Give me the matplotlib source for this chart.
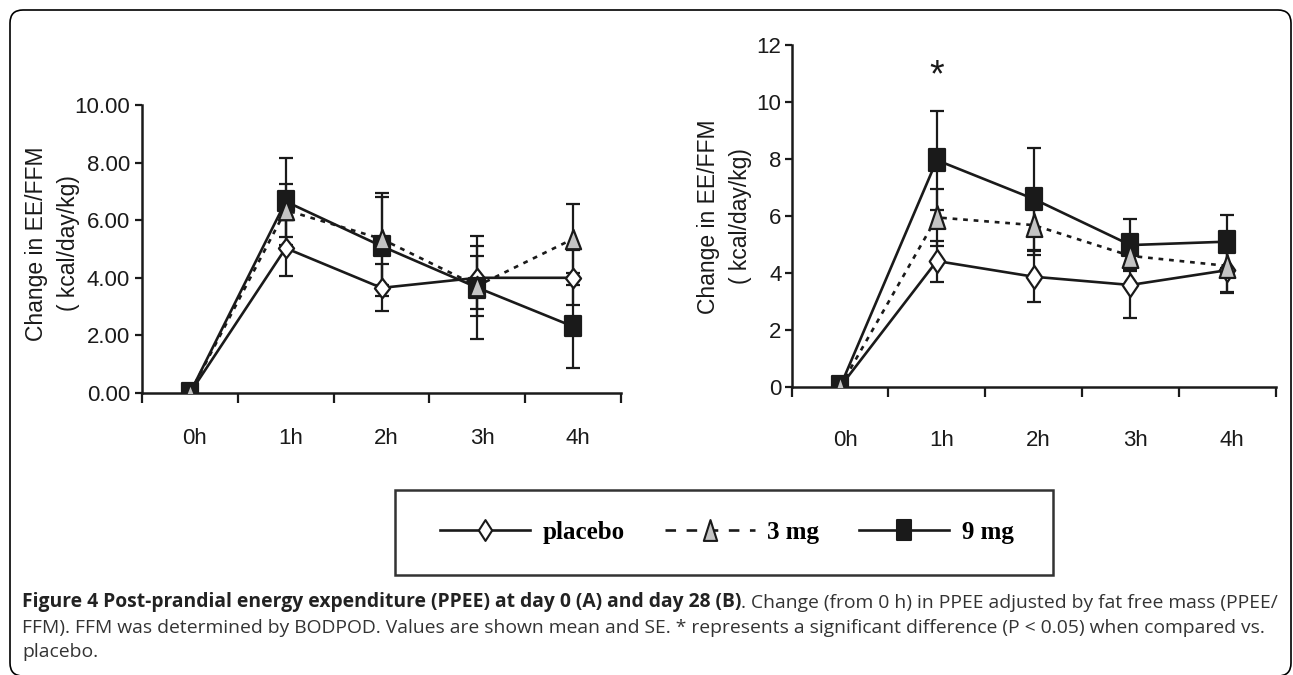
import numpy as np
import matplotlib
matplotlib.use("Agg")
import matplotlib.pyplot as plt
from matplotlib.path import Path
from matplotlib.lines import Line2D
from matplotlib.patches import FancyBboxPatch, Rectangle
import matplotlib.transforms as mtransforms
from matplotlib import font_manager as fm

# ---------------- data ----------------
hours = ["0h", "1h", "2h", "3h", "4h"]
series_names = ["placebo", "3 mg", "9 mg"]

# Panel A (day 0)
placebo_A = [0.0, 5.03, 3.65, 4.00, 4.00]
mg3_A = [0.0, 6.35, 5.35, 3.72, 5.35]
mg9_A = [0.0, 6.65, 5.10, 3.66, 2.31]
placebo_A_se = [0.0, 0.97, 0.82, 1.10, 0.95]
mg3_A_se = [0.0, 0.92, 1.60, 1.03, 1.20]
mg9_A_se = [0.0, 1.50, 1.72, 1.80, 1.45]

# Panel B (day 28)
placebo_B = [0.0, 4.42, 3.87, 3.58, 4.10]
mg3_B = [0.0, 5.95, 5.68, 4.60, 4.25]
mg9_B = [0.0, 7.96, 6.60, 4.98, 5.10]
placebo_B_se = [0.0, 0.72, 0.90, 1.17, 0.80]
mg3_B_se = [0.0, 1.00, 1.05, 0.45, 0.90]
mg9_B_se = [0.0, 1.74, 1.80, 0.90, 0.93]

yticks_A = [0, 2, 4, 6, 8, 10]
ytick_labels_A = ["0.00", "2.00", "4.00", "6.00", "8.00", "10.00"]
yticks_B = [0, 2, 4, 6, 8, 10, 12]
ytick_labels_B = ["0", "2", "4", "6", "8", "10", "12"]

ylabel_1 = "Change in EE/FFM"
ylabel_2 = "( kcal/day/kg)"
star_text = "*"
star_pos_B = (1, 10.55)

caption_bold = "Figure 4 Post-prandial energy expenditure (PPEE) at day 0 (A) and day 28 (B)"
caption_rest1 = ". Change (from 0 h) in PPEE adjusted by fat free mass (PPEE/"
caption_line2 = ("FFM). FFM was determined by BODPOD. Values are shown mean and SE. "
                 "* represents a significant difference (P < 0.05) when compared vs.")
caption_line3 = "placebo."

# ---------------- styling ----------------
W, H, DPI = 1293, 675, 100
INK = "#1a1a1a"
SANS = "Liberation Sans"
names = {f.name for f in fm.fontManager.ttflist}
CAP_FONT = "Liberation Sans Narrow" if "Liberation Sans Narrow" in names else "Open Sans"

def make_marker(kind, ratio):
    if kind == "diamond":
        v = [(0, 1), (ratio, 0), (0, -1), (-ratio, 0), (0, 1)]
    elif kind == "tri":
        v = [(0, 1), (ratio, -1), (-ratio, -1), (0, 1)]
    else:
        v = [(-ratio, -1), (ratio, -1), (ratio, 1), (-ratio, 1), (-ratio, -1)]
    codes = [Path.MOVETO] + [Path.LINETO] * (len(v) - 2) + [Path.CLOSEPOLY]
    return Path(v, codes)

fig = plt.figure(figsize=(W / DPI, H / DPI), dpi=DPI)

def px_ax(l, r, b_from_top, t_from_top):
    return [l / W, (H - b_from_top) / H, (r - l) / W, (b_from_top - t_from_top) / H]

axA = fig.add_axes(px_ax(142.1, 620.9, 393, 105))
axB = fig.add_axes(px_ax(791.6, 1275.6, 387, 45))

def draw_panel(ax, data, ses, ylim, yticks, ylabels, msize, ratio, xlab_pad, ylab_pad):
    x = np.arange(len(hours))
    styles = [
        dict(ls="-", mk="diamond", fc="white"),
        dict(ls=(0, (1.8, 2.2)), mk="tri", fc="#c4c4c4"),
        dict(ls="-", mk="square", fc=INK),
    ]
    order = [0, 2, 1]  # placebo, 9 mg, 3 mg drawing order
    for i in order:
        y = np.asarray(data[i], float)
        se = np.asarray(ses[i], float)
        m = se > 0
        ax.errorbar(x[m], y[m], yerr=se[m], fmt="none", ecolor=INK, elinewidth=1.6,
                    capsize=4.8, capthick=1.6, zorder=2)
    for k, i in enumerate(order):
        y = np.asarray(data[i], float)
        st = styles[i]
        ax.plot(x, y, color=INK, lw=1.9, ls=st["ls"], zorder=3 + k * 0.1,
                dash_capstyle="butt")
    for k, i in enumerate(order):
        y = np.asarray(data[i], float)
        st = styles[i]
        ax.plot(x, y, ls="none", marker=make_marker(st["mk"], ratio), ms=msize,
                mfc=st["fc"], mec=INK, mew=1.6, zorder=5 + k)
    ax.set_xlim(-0.5, len(hours) - 0.5)
    ax.set_ylim(*ylim)
    ax.set_xticks(np.arange(-0.5, len(hours), 1.0))
    ax.set_xticklabels([])
    ax.set_xticks(x, minor=True)
    ax.set_xticklabels(hours, minor=True, fontsize=16, family=SANS, color=INK)
    ax.tick_params(axis="x", which="major", direction="out", length=7, width=1.6, color=INK)
    ax.tick_params(axis="x", which="minor", length=0, pad=xlab_pad)
    ax.set_yticks(yticks)
    ax.set_yticklabels(ylabels, fontsize=16, family=SANS, color=INK)
    ax.tick_params(axis="y", direction="out", length=5, width=1.6, color=INK, pad=ylab_pad)
    for s in ["top", "right"]:
        ax.spines[s].set_visible(False)
    for s in ["left", "bottom"]:
        ax.spines[s].set_linewidth(1.8)
        ax.spines[s].set_color(INK)
        ax.spines[s].set_zorder(1)
    ax.set_facecolor("none")
    for lab in ax.xaxis.get_minorticklabels():
        lab.set_transform(lab.get_transform() +
                          mtransforms.ScaledTranslation(5 / DPI, 0, fig.dpi_scale_trans))

draw_panel(axA, [placebo_A, mg3_A, mg9_A], [placebo_A_se, mg3_A_se, mg9_A_se],
           (0, 10), yticks_A, ytick_labels_A, 14.0, 0.78, 25.5, 3.6)
draw_panel(axB, [placebo_B, mg3_B, mg9_B], [placebo_B_se, mg3_B_se, mg9_B_se],
           (0, 12), yticks_B, ytick_labels_B, 16.5, 0.68, 31, 2.2)

axB.text(star_pos_B[0], star_pos_B[1], star_text, ha="center", va="baseline",
         fontsize=27, family=SANS, color=INK)

# y-axis labels (two lines each)
for (x1, x2, yc) in [(37, 68, 243.5), (708, 740, 216.5)]:
    fig.text(x1 / W, 1 - yc / H, ylabel_1, rotation=90, ha="center", va="center",
             fontsize=16.5, family=SANS, color=INK)
    fig.text(x2 / W, 1 - yc / H, ylabel_2, rotation=90, ha="center", va="center",
             fontsize=16.5, family=SANS, color=INK)

# legend box
fig.patches.append(Rectangle((395 / W, 1 - 575 / H), (1053 - 395) / W, (575 - 490) / H,
                             transform=fig.transFigure, fill=False, ec="#333333", lw=1.8))
handles = [
    Line2D([], [], color=INK, lw=1.9, marker=make_marker("diamond", 0.64), ms=15,
           mfc="white", mec=INK, mew=1.5),
    Line2D([], [], color=INK, lw=1.9, ls=(0, (4, 4)), marker=make_marker("tri", 0.64), ms=15,
           mfc="#c4c4c4", mec=INK, mew=1.5),
    Line2D([], [], color=INK, lw=1.9, marker=make_marker("square", 0.64), ms=15,
           mfc=INK, mec=INK, mew=1.5),
]
fig.legend(handles, series_names, loc="center", bbox_to_anchor=(727 / W, 1 - 532 / H),
           ncol=3, frameon=False, handlelength=3.6, handletextpad=0.5, columnspacing=1.6,
           prop=dict(family="Liberation Serif", weight="bold", size=18))

# rounded outer border (in inches)
fig.patches.append(FancyBboxPatch((10 / DPI, -1 / DPI), (1291 - 10) / DPI, (H - 10 + 1) / DPI,
                                  boxstyle="round,pad=0,rounding_size=0.13",
                                  transform=fig.dpi_scale_trans, fill=False, ec="black", lw=1.2))

# caption
cax = fig.add_axes([0, 0, 1, 1])
cax.axis("off")
cax.set_zorder(-1)
size = 12.0
t1 = cax.text(22 / W, 1 - 602 / H, caption_bold, fontweight="bold", family=CAP_FONT,
              fontsize=size, color="#222222", va="center", ha="left")
t2 = cax.annotate(caption_rest1, xy=(1, 0), xycoords=t1, va="bottom", ha="left",
                  family=CAP_FONT, fontsize=size, color="#333333")
fig.canvas.draw()
r = fig.canvas.get_renderer()
w = t1.get_window_extent(r).width + t2.get_window_extent(r).width
size = size * (1248 / w)
t1.set_fontsize(size)
t2.set_fontsize(size)
cax.text(22 / W, 1 - 628 / H, caption_line2, family=CAP_FONT, fontsize=size,
         color="#333333", va="center", ha="left")
cax.text(22 / W, 1 - 652 / H, caption_line3, family=CAP_FONT, fontsize=size,
         color="#333333", va="center", ha="left")

fig.savefig("out.png", dpi=DPI, facecolor="white")
